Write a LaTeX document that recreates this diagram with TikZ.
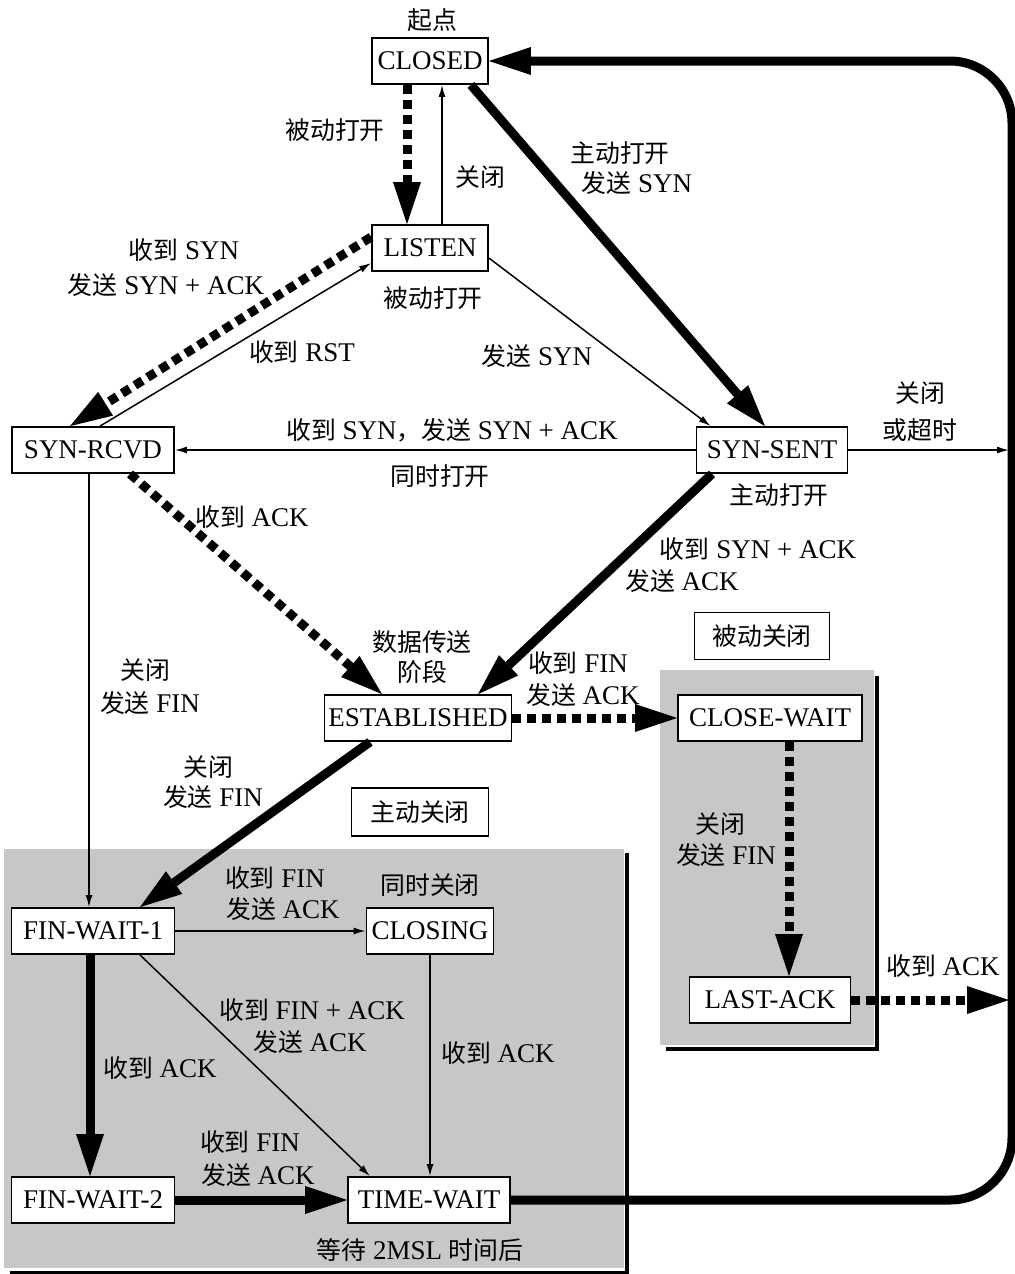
\documentclass[tikz,border=0pt]{standalone}
\usepackage{fontspec}
\setmainfont{Liberation Serif}
\newfontfamily\cjk{Noto Sans CJK SC}[Scale=0.92]
\usetikzlibrary{arrows.meta,calc}
\newcommand\zh[1]{{\cjk #1}}
\begin{document}
\begin{tikzpicture}[x=0.5pt,y=-0.5pt,
  font=\fontsize{13.5}{16}\selectfont,
  state/.style={draw,line width=0.9pt,fill=white,minimum height=23pt,inner sep=1pt},
  lbl/.style={inner sep=0pt},
  thinarr/.style={line width=0.75pt,-{Latex[length=6pt,width=3.5pt]}},
  heavy/.style={line width=4.5pt,-{Triangle[length=21pt,width=14pt,line width=0pt]}},
  dots/.style={heavy,dash pattern=on 4.5pt off 3pt},
  shadowline/.style={line width=2pt},
  region/.style={fill=black!22}
]
\fill[white] (0,0) rectangle (1015,1274);
\path[use as bounding box] (0,0) rectangle (1015,1274);

% shaded regions
\fill[region] (4,849) rectangle (624,1268);
\draw[shadowline] (627,853) -- (627,1273) -- (10,1273);
\fill[region] (660,670) rectangle (874,1045);
\draw[shadowline] (877,676) -- (877,1049) -- (666,1049);

% states
\node[state,minimum width=58pt] (closed) at (430,61) {CLOSED};
\node[state,minimum width=58pt] (listen) at (430,248) {LISTEN};
\node[state,minimum width=81pt] (synrcvd) at (93,450) {SYN-RCVD};
\node[state,minimum width=75.5pt] (synsent) at (772,450) {SYN-SENT};
\node[state,minimum width=93.5pt] (est) at (418,718) {ESTABLISHED};
\node[state,minimum width=92pt] (closewait) at (770,718) {CLOSE-WAIT};
\node[state,minimum width=80.5pt] (lastack) at (770,1000) {LAST-ACK};
\node[state,minimum width=81.5pt] (fw1) at (93,931) {FIN-WAIT-1};
\node[state,minimum width=63.5pt] (closing) at (430,931) {CLOSING};
\node[state,minimum width=81.5pt] (fw2) at (93,1200) {FIN-WAIT-2};
\node[state,minimum width=81pt] (tw) at (429,1200) {TIME-WAIT};
\node[state,minimum width=67.5pt,minimum height=23.5pt] (pclose) at (762,636) {\zh{被动关闭}};
\node[state,minimum width=68.5pt,minimum height=24pt] (aclose) at (420,812) {\zh{主动关闭}};

% loop coordinates
\coordinate (br) at (1012,1200);
\coordinate (tr) at (1012,61);
\coordinate (e1) at (1009,450);
\coordinate (e2) at (1009,1000);

% connectors
\draw[dots] ($(closed.south)+(-23,0)$) -- ($(listen.north)+(-23,0)$);
\draw[thinarr] ($(listen.north)+(12,0)$) -- ($(closed.south)+(12,0)$);
\draw[heavy] ($(closed.south east)+(-18,0)$) -- ($(synsent.north)+(-7,0)$);
\draw[thinarr] ($(listen.east)+(0,10)$) -- ($(synsent.north west)+(15,0)$);
\draw[dots] ($(listen.west)+(0,-11)$) -- ($(synrcvd.north)+(-23,0)$);
\draw[thinarr] ($(synrcvd.north)+(7,0)$) -- ($(listen.west)+(0,15)$);
\draw[thinarr] (synsent.west) -- (synrcvd.east);
\draw[thinarr] (synsent.east) -- (e1);
\draw[dots] ($(synrcvd.south)+(37,0)$) -- ($(est.north)+(-36,0)$);
\draw[heavy] ($(synsent.south)+(-60,0)$) -- ($(est.north)+(60,0)$);
\draw[dots] (est.east) -- (closewait.west);
\draw[dots] ($(closewait.south)+(19,0)$) -- ($(lastack.north)+(19,0)$);
\draw[dots] (lastack.east) -- (e2);
\draw[thinarr] ($(synrcvd.south)+(-4,0)$) -- ($(fw1.north)+(-4,0)$);
\draw[heavy] ($(est.south)+(-48,0)$) -- ($(fw1.north)+(47,0)$);
\draw[thinarr] (fw1.east) -- (closing.west);
\draw[thinarr] ($(fw1.south)+(47,0)$) -- ($(tw.north)+(-59,0)$);
\draw[heavy] ($(fw1.south)+(-3,0)$) -- ($(fw2.north)+(-3,0)$);
\draw[thinarr] (closing.south) -- (closing.south |- tw.north);
\draw[heavy] (fw2.east) -- (tw.west);
\draw[heavy,rounded corners=31pt] (tw.east) -- (br) -- (tr) -- (closed.east);

% labels
\node[lbl] (l1) at (432,20) {\zh{起点}};
\node[lbl] (l2) at (335,130) {\zh{被动打开}};
\node[lbl] (l3) at (480,177) {\zh{关闭}};
\node[lbl] (l4) at (433,298) {\zh{被动打开}};
\node[lbl] (l5a) at (620,153) {\zh{主动打开}};
\node[lbl] (l5b) at (637,183) {\zh{发送} SYN};
\node[lbl] (l6a) at (184,250) {\zh{收到} SYN};
\node[lbl] (l6b) at (166,285) {\zh{发送} SYN + ACK};
\node[lbl] (l7) at (302,352) {\zh{收到} RST};
\node[lbl] (l8) at (537,356) {\zh{发送} SYN};
\node[lbl] (l9a) at (920,393) {\zh{关闭}};
\node[lbl] (l9b) at (920,430) {\zh{或超时}};
\node[lbl] (l10) at (452,430) {\zh{收到} SYN\zh{，发送} SYN + ACK};
\node[lbl] (l11) at (440,476) {\zh{同时打开}};
\node[lbl] (l12) at (779,495) {\zh{主动打开}};
\node[lbl] (l13) at (252,517) {\zh{收到} ACK};
\node[lbl] (l14a) at (758,549) {\zh{收到} SYN + ACK};
\node[lbl] (l14b) at (682,581) {\zh{发送} ACK};
\node[lbl] (l15a) at (422,642) {\zh{数据传送}};
\node[lbl] (l15b) at (422,672) {\zh{阶段}};
\node[lbl] (l16a) at (145,670) {\zh{关闭}};
\node[lbl] (l16b) at (150,703) {\zh{发送} FIN};
\node[lbl] (l17a) at (578,663) {\zh{收到} FIN};
\node[lbl] (l17b) at (583,695) {\zh{发送} ACK};
\node[lbl] (l18a) at (208,767) {\zh{关闭}};
\node[lbl] (l18b) at (213,797) {\zh{发送} FIN};
\node[lbl] (l19a) at (720,824) {\zh{关闭}};
\node[lbl] (l19b) at (726,855) {\zh{发送} FIN};
\node[lbl] (l20a) at (275,878) {\zh{收到} FIN};
\node[lbl] (l20b) at (283,909) {\zh{发送} ACK};
\node[lbl] (l21) at (430,885) {\zh{同时关闭}};
\node[lbl] (l22) at (943,966) {\zh{收到} ACK};
\node[lbl] (l23a) at (312,1010) {\zh{收到} FIN + ACK};
\node[lbl] (l23b) at (310,1042) {\zh{发送} ACK};
\node[lbl] (l24) at (160,1068) {\zh{收到} ACK};
\node[lbl] (l25) at (498,1053) {\zh{收到} ACK};
\node[lbl] (l26a) at (250,1142) {\zh{收到} FIN};
\node[lbl] (l26b) at (258,1175) {\zh{发送} ACK};
\node[lbl] (l27) at (420,1250) {\zh{等待} 2MSL \zh{时间后}};
\end{tikzpicture}
\end{document}
